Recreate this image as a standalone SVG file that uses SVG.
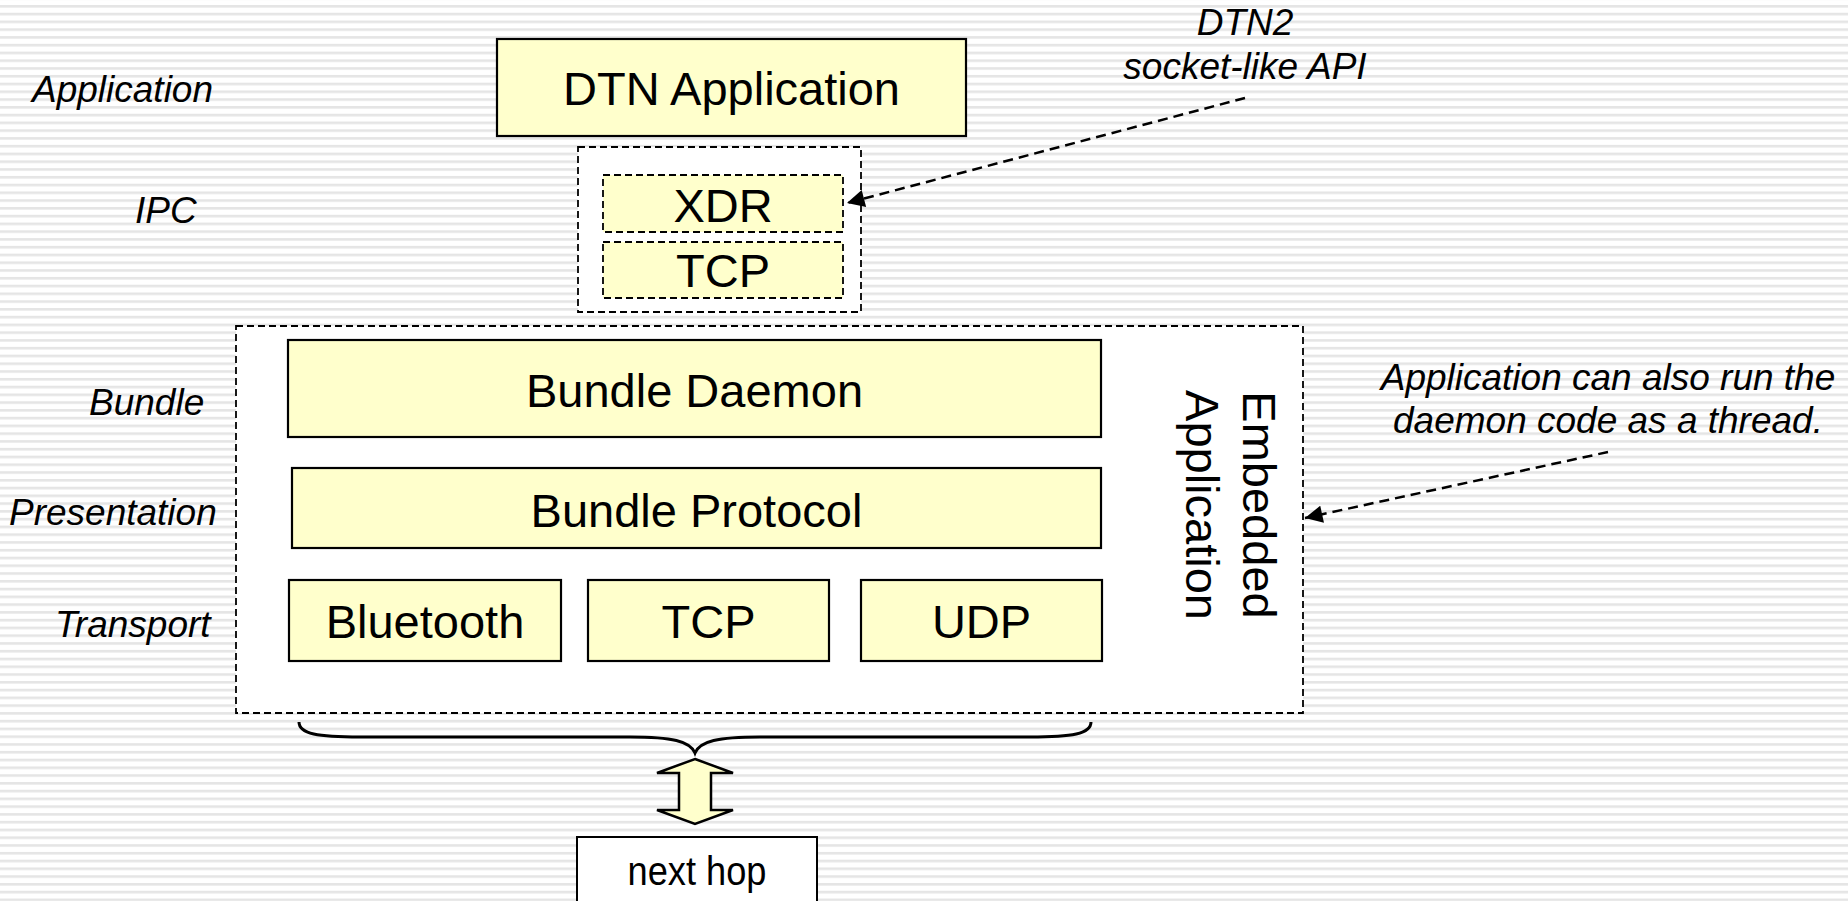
<svg xmlns="http://www.w3.org/2000/svg" width="1848" height="901" viewBox="0 0 1848 901">
<style>
  .box{fill:#ffffcc;stroke:#000;stroke-width:2.2}
  .dbox{fill:#ffffcc;stroke:#000;stroke-width:1.8;stroke-dasharray:7 4}
  .wbox{fill:#fff;stroke:#000;stroke-width:1.8;stroke-dasharray:7 4}
  .t{font-family:"Liberation Sans",Arial,sans-serif;font-size:47px;fill:#000;text-anchor:middle}
  .lab{font-family:"Liberation Sans",Arial,sans-serif;font-size:37px;font-style:italic;fill:#000}
  .ann{font-family:"Liberation Sans",Arial,sans-serif;font-size:37px;font-style:italic;fill:#000;text-anchor:middle}
  .conn{fill:none;stroke:#000;stroke-width:2.5;stroke-dasharray:10 6}
</style>
<defs>
  <pattern id="stripes" patternUnits="userSpaceOnUse" x="0" y="5" width="20" height="7.77">
    <rect x="0" y="0" width="20" height="2.6" fill="#e5e5e5"/>
  </pattern>
  <marker id="ah" viewBox="0 0 10 10" refX="10" refY="5" markerWidth="8" markerHeight="7" markerUnits="strokeWidth" orient="auto">
    <path d="M0,0 L10,5 L0,10 z" fill="#000"/>
  </marker>
</defs>
<rect x="0" y="0" width="1848" height="901" fill="#fff"/>
<rect x="0" y="0" width="1848" height="901" fill="url(#stripes)"/>

<g id="layer-labels">
  <text class="lab" x="32" y="102">Application</text>
  <text class="lab" x="135" y="223">IPC</text>
  <text class="lab" x="89" y="415">Bundle</text>
  <text class="lab" x="9" y="525">Presentation</text>
  <text class="lab" x="55" y="637">Transport</text>
</g>

<g id="dtn-application">
  <rect class="box" x="497" y="39" width="469" height="97"/>
  <text class="t" x="731.5" y="105">DTN Application</text>
</g>

<g id="ipc">
  <rect class="wbox" x="578" y="147" width="283" height="165"/>
</g>
<g id="xdr">
  <rect class="dbox" x="603" y="175" width="240" height="57"/>
  <text class="t" x="723" y="222">XDR</text>
</g>
<g id="ipc-tcp">
  <rect class="dbox" x="603" y="242" width="240" height="56"/>
  <text class="t" x="723" y="287">TCP</text>
</g>

<g id="embedded-application">
  <rect class="wbox" x="236" y="326" width="1067" height="387"/>
  <text class="t" transform="translate(1243,505) rotate(90)">Embedded</text>
  <text class="t" transform="translate(1186,505) rotate(90)">Application</text>
</g>
<g id="bundle-daemon">
  <rect class="box" x="288" y="340" width="813" height="97"/>
  <text class="t" x="694.5" y="407">Bundle Daemon</text>
</g>
<g id="bundle-protocol">
  <rect class="box" x="292" y="468" width="809" height="80"/>
  <text class="t" x="696.5" y="527">Bundle Protocol</text>
</g>
<g id="bluetooth">
  <rect class="box" x="289" y="580" width="272" height="81"/>
  <text class="t" x="425" y="638">Bluetooth</text>
</g>
<g id="transport-tcp">
  <rect class="box" x="588" y="580" width="241" height="81"/>
  <text class="t" x="708.5" y="638">TCP</text>
</g>
<g id="udp">
  <rect class="box" x="861" y="580" width="241" height="81"/>
  <text class="t" x="981.5" y="638">UDP</text>
</g>

<g id="annotation-api">
  <text class="ann" x="1245" y="35">DTN2</text>
  <text class="ann" x="1245" y="79">socket-like API</text>
</g>
<g id="annotation-thread">
  <text class="ann" x="1608" y="390">Application can also run the</text>
  <text class="ann" x="1608" y="433">daemon code as a thread.</text>
</g>

<g id="brace">
  <path d="M299,722 C299,734 318,737 360,737 L630,737 C672,737 690,741 695,753 C700,741 718,737 760,737 L1030,737 C1072,737 1091,734 1091,722" fill="none" stroke="#000" stroke-width="3"/>
</g>

<g id="next-hop">
  <rect x="577" y="837" width="240" height="80" fill="#fff" stroke="#000" stroke-width="2"/>
  <text x="697" y="885" font-family="'Liberation Sans',Arial,sans-serif" font-size="40" text-anchor="middle" textLength="139" lengthAdjust="spacingAndGlyphs">next hop</text>
</g>

<g id="connectors">
  <path class="conn" d="M1245,98 L847,203" marker-end="url(#ah)"/>
  <path class="conn" d="M1608,452 L1305,518" marker-end="url(#ah)"/>
  <polygon points="695,759 733,773 711,773 711,810 733,810 695,824 657,810 679,810 679,773 657,773" fill="#ffffcc" stroke="#000" stroke-width="2.5" stroke-linejoin="miter"/>
</g>
</svg>
